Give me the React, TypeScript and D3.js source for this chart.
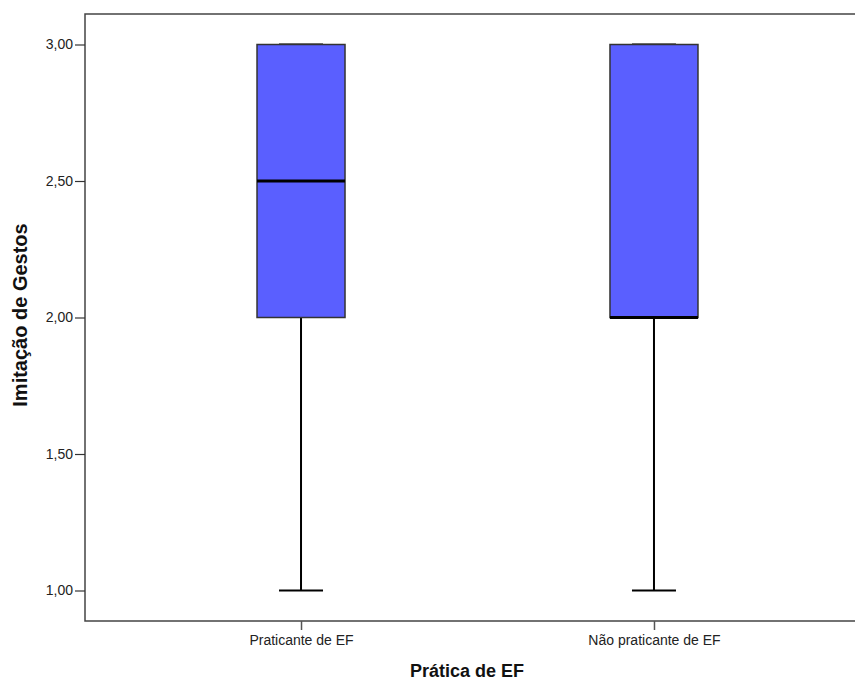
import * as d3 from "d3";
import { useEffect, useRef } from "react";

const categories = ["Praticante de EF", "Não praticante de EF"];
const mins = [1, 1];
const q1s = [2, 2];
const medians = [2.5, 2];
const q3s = [3, 3];
const maxs = [3, 3];
const yTicks = [1, 1.5, 2, 2.5, 3];

const App = () => {
  const ref = useRef<SVGSVGElement>(null);

  useEffect(() => {
    const svg = d3.select(ref.current);
    svg.selectAll("*").remove();

    const left = 85, right = 870, top = 14, bottom = 621;
    const font = "Arial, 'Liberation Sans', sans-serif";

    const x = d3.scalePoint().domain(categories).range([left, right]).padding(0.612);
    const y = d3.scaleLinear().domain([1, 3]).range([590.5, 44.5]);

    const fmt = (v: number) => d3.format(".2f")(v).replace(".", ",");

    // frame
    svg.append("path")
      .attr("d", `M${right},${top}H${left}V${bottom}H${right}`)
      .attr("fill", "none")
      .attr("stroke", "#444")
      .attr("stroke-width", 1.5);

    const yAxis = d3.axisLeft(y).tickValues(yTicks).tickFormat(fmt as any).tickSize(10).tickSizeOuter(0);
    const gy = svg.append("g").attr("transform", `translate(${left},0)`).call(yAxis);
    gy.select(".domain").remove();
    gy.selectAll("line").attr("stroke", "#333").attr("stroke-width", 1.2);
    gy.selectAll("text")
      .attr("font-family", font)
      .attr("font-size", 14)
      .attr("fill", "#222")
      .attr("x", -12);

    const xAxis = d3.axisBottom(x).tickSize(9).tickSizeOuter(0);
    const gx = svg.append("g").attr("transform", `translate(0,${bottom})`).call(xAxis);
    gx.select(".domain").remove();
    gx.selectAll("line").attr("stroke", "#555").attr("stroke-width", 1.5);
    gx.selectAll("text")
      .attr("font-family", font)
      .attr("font-size", 14)
      .attr("fill", "#222")
      .attr("y", 14);

    const boxW = 88, capW = 44;
    const g = svg.append("g");
    categories.forEach((c, i) => {
      const cx = x(c)!;
      g.append("line")
        .attr("x1", cx).attr("x2", cx)
        .attr("y1", y(mins[i])).attr("y2", y(q1s[i]))
        .attr("stroke", "#000").attr("stroke-width", 2);
      g.append("line")
        .attr("x1", cx).attr("x2", cx)
        .attr("y1", y(q3s[i])).attr("y2", y(maxs[i]))
        .attr("stroke", "#000").attr("stroke-width", 2);
      g.append("line")
        .attr("x1", cx - capW / 2).attr("x2", cx + capW / 2)
        .attr("y1", y(mins[i])).attr("y2", y(mins[i]))
        .attr("stroke", "#000").attr("stroke-width", 2);
      g.append("line")
        .attr("x1", cx - capW / 2).attr("x2", cx + capW / 2)
        .attr("y1", y(maxs[i])).attr("y2", y(maxs[i]))
        .attr("stroke", "#000").attr("stroke-width", 2);
      g.append("rect")
        .attr("x", cx - boxW / 2)
        .attr("y", y(q3s[i]))
        .attr("width", boxW)
        .attr("height", y(q1s[i]) - y(q3s[i]))
        .attr("fill", "#5a5fff")
        .attr("stroke", "#333")
        .attr("stroke-width", 1.5);
      g.append("line")
        .attr("x1", cx - boxW / 2).attr("x2", cx + boxW / 2)
        .attr("y1", y(medians[i])).attr("y2", y(medians[i]))
        .attr("stroke", "#000").attr("stroke-width", 3);
    });

    svg.append("text")
      .attr("transform", `translate(27,315) rotate(-90)`)
      .attr("text-anchor", "middle")
      .attr("font-family", font)
      .attr("font-weight", "bold")
      .attr("font-size", 20)
      .attr("fill", "#111")
      .text("Imitação de Gestos");

    svg.append("text")
      .attr("x", 467)
      .attr("y", 677)
      .attr("text-anchor", "middle")
      .attr("font-family", font)
      .attr("font-weight", "bold")
      .attr("font-size", 18)
      .attr("fill", "#111")
      .text("Prática de EF");
  });

  return (
    <svg
      ref={ref}
      width={855}
      height={684}
      style={{ position: "absolute", left: 0, top: 0, background: "#fff", overflow: "hidden" }}
    />
  );
};

export default App;
